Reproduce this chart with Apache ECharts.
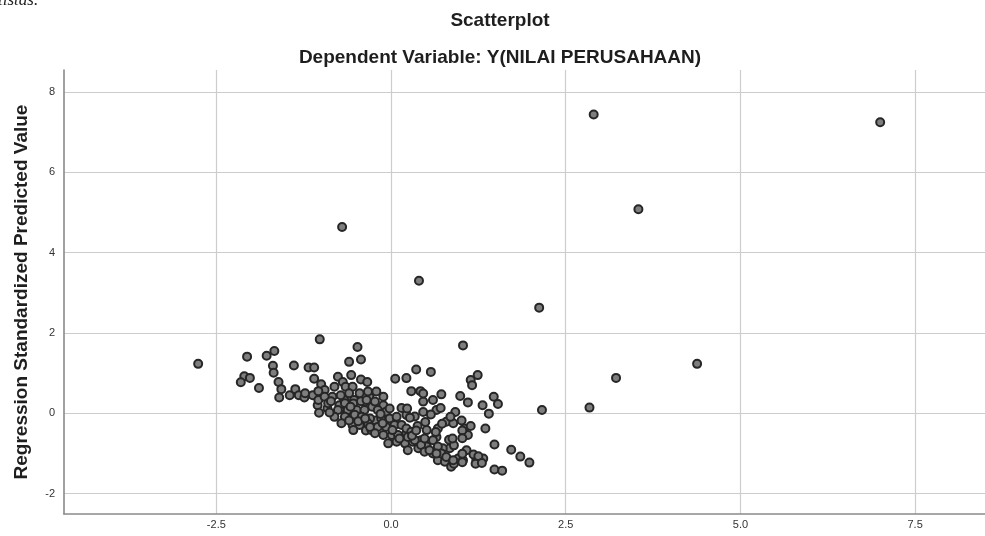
<!DOCTYPE html>
<html>
<head>
<meta charset="utf-8">
<script src="https://cdn.jsdelivr.net/npm/echarts@6/dist/echarts.min.js"></script>
<style>html,body{margin:0;padding:0;background:#fff;}#chart{width:985px;height:536px;}</style>
</head>
<body>
<div id="chart"></div>
<script>
var titleText = 'Scatterplot';
var subtitleText = 'Dependent Variable: Y(NILAI PERUSAHAAN)';
var yAxisName = 'Regression Standardized Predicted Value';
var xTicks = [-2.5, 0, 2.5, 5, 7.5];
var yTicks = [-2, 0, 2, 4, 6, 8];

var outlierPoints = [
  [-2.76,1.23],[-0.70,4.64],[0.40,3.30],[2.90,7.44],[7.00,7.25],[3.54,5.08],
  [2.12,2.63],[2.16,0.08],[2.84,0.14],[3.22,0.88],[4.38,1.23],[1.03,1.69]
];
var leftPoints = [
  [-2.06,1.41],[-1.78,1.43],[-1.67,1.55],[-1.02,1.84],[-0.48,1.65],[-0.43,1.34],[-0.60,1.28],
  [-1.69,1.18],[-1.68,1.01],[-1.39,1.19],[-1.18,1.14],[-1.10,1.14],[-2.10,0.92],[-2.02,0.88],
  [-2.15,0.77],[-1.89,0.63],[-1.61,0.78],[-1.57,0.60],[-1.60,0.39],[-1.45,0.45],[-1.37,0.60],
  [-1.32,0.45],[-1.24,0.39],[-1.10,0.86],[-1.00,0.72],[-0.95,0.58],[-1.12,0.45],[-1.05,0.20],
  [-1.03,0.01],[-0.91,0.12],[-0.84,0.41],[-0.81,0.66],[-0.76,0.91],[-0.69,0.78],[-0.57,0.95],
  [-0.65,0.66],[-0.55,0.66],[-0.43,0.84],[-0.34,0.78],[-0.74,0.20],[-0.65,-0.01],[-0.55,-0.30],
  [-0.43,-0.18],[-0.36,-0.43],[-0.27,0.16],[-0.22,-0.18],[-0.31,0.41],[-0.53,0.33],[-0.38,0.28],
  [-0.67,0.33],[-1.04,0.55],[-1.23,0.50],[-1.04,0.33],[-0.95,0.41],[-0.90,0.25],[-0.66,0.25],
  [-0.54,0.24],[-0.43,0.30],[-0.35,0.33],[-0.76,0.08],[-0.62,0.08],[-0.49,0.08],[-0.38,0.08],
  [-0.81,-0.09],[-0.66,-0.09],[-0.52,-0.04],[-0.42,-0.09],[-0.30,-0.13],[-0.71,-0.25],
  [-0.45,-0.29],[-0.33,-0.25],[-0.54,-0.42],[-0.28,-0.42],
  [-0.86,0.30],[-0.72,0.45],[-0.60,0.50],[-0.58,0.16],[-0.47,-0.20],[-0.88,0.02],[-0.60,-0.18]
];
var corePoints = [
  [-0.45,0.50],[-0.33,0.54],[-0.21,0.54],[-0.11,0.41],[-0.23,0.29],[-0.11,0.20],[-0.19,0.08],
  [-0.07,0.04],[-0.37,-0.13],[-0.14,-0.13],[-0.02,-0.13],[0.08,-0.09],[-0.30,-0.34],[-0.19,-0.34],
  [-0.07,-0.34],[0.05,-0.29],[0.15,-0.29],[-0.23,-0.50],[-0.11,-0.54],[0.01,-0.54],[0.10,-0.54],
  [0.22,-0.50],[-0.04,-0.75],[0.08,-0.71],[0.20,-0.75],[0.31,-0.71],[0.43,-0.67],[0.24,-0.92],
  [0.39,-0.87],[0.51,-0.83],[0.22,-0.04],[0.34,-0.08],[0.51,-0.42],[0.46,0.29],[0.65,0.08],
  [0.79,-0.21],[0.89,-0.25],[1.05,-0.38],[1.10,-0.54],[0.67,-0.38],[0.65,-0.59],[0.84,-0.87],
  [0.22,-0.38],[0.29,-0.46],[0.24,-0.59],[0.34,-0.67],[0.43,-0.79],[0.74,-0.87],[0.48,-0.96],
  [0.60,-1.00],[0.67,-1.17],[0.77,-1.21],[0.96,-1.13],[0.86,-1.33],[1.03,-1.17],[1.22,-1.17],
  [1.32,-1.13],[1.08,-0.92],
  [-0.15,-0.02],[0.02,-0.42],[-0.12,-0.25],[0.12,-0.63],[0.30,-0.56],[0.38,-0.32],[-0.02,0.12]
];
var rightPoints = [
  [0.06,0.86],[0.22,0.875],[0.36,1.09],[0.57,1.03],[1.24,0.95],[1.14,0.83],[1.16,0.70],
  [0.29,0.55],[0.42,0.55],[0.46,0.49],[0.72,0.47],[0.60,0.33],[0.71,0.13],[0.99,0.43],
  [1.10,0.27],[1.31,0.20],[1.47,0.41],[1.53,0.23],[1.40,-0.01],[1.35,-0.38],[1.48,-0.78],
  [1.72,-0.91],[1.85,-1.08],[0.92,0.03],[0.85,-0.09],[1.01,-0.18],[1.14,-0.32],[1.02,-0.43],
  [0.46,0.03],[0.57,-0.03],[0.49,-0.22],[0.73,-0.26],[0.64,-0.47],[0.15,0.13],[0.23,0.12],
  [0.27,-0.11],[0.36,-0.43],[0.83,-0.66],[0.90,-0.80],[1.02,-0.62],[1.18,-1.03],[1.02,-1.01],
  [1.98,-1.23],[1.48,-1.40],[1.59,-1.43],[1.25,-1.07],[1.21,-1.26],[1.30,-1.24],[1.02,-1.22],
  [0.90,-1.26],[0.88,-0.63],[0.48,-0.63],[0.60,-0.67],[0.67,-0.83],[0.72,-1.00],[0.79,-1.09],
  [0.89,-1.17],[0.55,-0.92],[0.65,-1.00]
];

var allPoints = leftPoints.concat(corePoints, rightPoints, outlierPoints);
var FONT = "'Liberation Sans', Arial, sans-serif";

var chart = echarts.init(document.getElementById('chart'), null, {renderer: 'canvas'});
chart.setOption({
  animation: false,
  backgroundColor: '#ffffff',
  graphic: [
    {type: 'text', x: 500, y: 21, style: {text: titleText, align: 'center', verticalAlign: 'middle', font: "bold 19px " + FONT, fill: '#1e1e1e'}},
    {type: 'text', x: 500, y: 58, style: {text: subtitleText, align: 'center', verticalAlign: 'middle', font: "bold 19px " + FONT, fill: '#1e1e1e'}},
    {type: 'text', x: -2, y: 9, style: {text: 'tistas.', align: 'left', verticalAlign: 'bottom', font: "italic 17px 'Liberation Serif', serif", fill: '#222'}}
  ],
  grid: {left: 64, right: 0, top: 70, bottom: 22, containLabel: false, outerBoundsMode: 'none'},
  xAxis: {
    type: 'value', min: -4.68, max: 8.5,
    axisLine: {show: true, onZero: false, lineStyle: {color: '#8a8a8a', width: 1.6}},
    axisTick: {show: false, customValues: xTicks},
    axisLabel: {customValues: xTicks, margin: 5, color: '#333', fontSize: 11, fontFamily: FONT,
      formatter: function (v) { return v.toFixed(1); }},
    splitLine: {show: true, lineStyle: {color: '#cdcdcd', width: 1.2}}
  },
  yAxis: {
    type: 'value', min: -2.51, max: 8.55,
    name: yAxisName, nameLocation: 'middle', nameGap: 33,
    nameTextStyle: {fontFamily: FONT, fontWeight: 'bold', fontSize: 19, color: '#1e1e1e'},
    axisLine: {show: true, onZero: false, lineStyle: {color: '#8a8a8a', width: 1.6}},
    axisTick: {show: false, customValues: yTicks},
    axisLabel: {customValues: yTicks, margin: 9, color: '#333', fontSize: 11, fontFamily: FONT},
    splitLine: {show: true, lineStyle: {color: '#cdcdcd', width: 1.2}}
  },
  series: [{
    type: 'scatter',
    data: allPoints,
    symbol: 'circle',
    symbolSize: 8,
    itemStyle: {color: '#7e7e7e', borderColor: '#262626', borderWidth: 2, opacity: 1},
    emphasis: {disabled: true}
  }]
});
</script>
</body>
</html>
